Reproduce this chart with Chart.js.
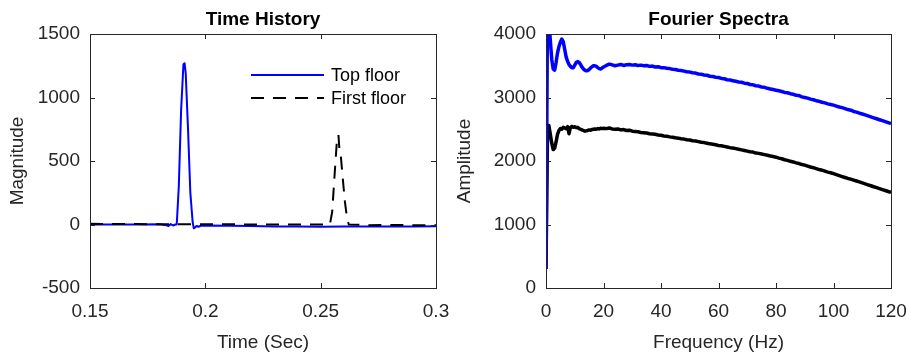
<!DOCTYPE html>
<html>
<head>
<meta charset="utf-8">
<script src="https://cdn.jsdelivr.net/npm/chart.js@4.4.1/dist/chart.umd.min.js"></script>
<style>
  html, body { margin: 0; padding: 0; background: #fff; }
  #wrap { position: relative; width: 906px; height: 356px; }
  canvas { position: absolute; top: 0; }
  #timeChart { left: 0; }
  #specChart { left: 453px; }
</style>
</head>
<body>
<div id="wrap">
  <canvas id="timeChart" width="453" height="356"></canvas>
  <canvas id="specChart" width="453" height="356"></canvas>
</div>
<script>
// Time history + Fourier spectra, two panels side by side (MATLAB look).

// --- time history (left) ---
const topTime = [0.150, 0.160, 0.170, 0.180, 0.183, 0.184, 0.185, 0.186, 0.1870, 0.1876, 0.1885, 0.1895,
  0.1905, 0.1910, 0.1915, 0.1925, 0.1935, 0.1945, 0.1950, 0.1955, 0.1962, 0.1970, 0.1980, 0.200,
  0.210, 0.220, 0.230, 0.240, 0.250, 0.260, 0.270, 0.280, 0.290, 0.300];
const topMag = [0, 0, 0, 2, -5, -12, 3, -8, 0, 0, 300, 900,
  1260, 1270, 1190, 750, 250, 20, -30, -25, -12, -18, -10, -8,
  -10, -12, -15, -16, -18, -16, -15, -16, -15, -14];

const firstTime = [0.150, 0.170, 0.200, 0.230, 0.250, 0.2540, 0.2550, 0.2560, 0.2570, 0.2577, 0.2581,
  0.2585, 0.2595, 0.2605, 0.2615, 0.2622, 0.270, 0.280, 0.290, 0.300];
const firstMag = [5, 3, 2, 0, 0, 0, 100, 380, 650, 705, 600,
  590, 380, 180, 40, 0, -5, -4, -5, -6];

const timeTicks = [0.15, 0.2, 0.25, 0.3];
const magTicks = [-500, 0, 500, 1000, 1500];

// --- Fourier spectra (right) ---
const freq = [0, 0.5, 1, 1.5, 2, 2.5, 3, 3.5, 4, 4.5, 5, 5.5, 6, 6.5, 7, 7.5, 8, 8.5, 9, 9.5,
  10, 10.5, 11, 11.5, 12, 12.5, 13, 13.5, 14, 14.5, 15, 15.5, 16, 16.5, 17, 17.5, 18, 18.5, 19, 19.5, 20,
  21, 22, 23, 24, 25, 26, 27, 28, 29, 30, 31, 32, 33, 34, 35, 36, 37, 38, 39, 40,
  41, 42, 43, 44, 45, 46, 47, 48, 49, 50, 51, 52, 53, 54, 55, 56, 57, 58, 59, 60,
  61, 62, 63, 64, 65, 66, 67, 68, 69, 70, 71, 72, 73, 74, 75, 76, 77, 78, 79, 80,
  81, 82, 83, 84, 85, 86, 87, 88, 89, 90, 91, 92, 93, 94, 95, 96, 97, 98, 99, 100,
  101, 102, 103, 104, 105, 106, 107, 108, 109, 110, 111, 112, 113, 114, 115, 116, 117, 118, 119, 120];

const topAmp = [300, 4300, 4200, 3900, 3600, 3450, 3430, 3550, 3700, 3800, 3870, 3920, 3880, 3760, 3640, 3570, 3520, 3490, 3470, 3470,
  3510, 3550, 3565, 3555, 3520, 3480, 3450, 3430, 3420, 3425, 3440, 3465, 3485, 3500, 3500, 3490, 3470, 3455, 3450, 3465, 3480,
  3505, 3525, 3515, 3500, 3510, 3520, 3505, 3515, 3520, 3510, 3515, 3505, 3510, 3500, 3505, 3490, 3495, 3480, 3485, 3470,
  3470, 3460, 3455, 3445, 3440, 3430, 3425, 3415, 3405, 3400, 3390, 3385, 3370, 3365, 3355, 3350, 3335, 3330, 3320, 3315,
  3300, 3295, 3280, 3275, 3265, 3255, 3245, 3240, 3225, 3220, 3205, 3200, 3185, 3180, 3165, 3160, 3145, 3135, 3125, 3115,
  3105, 3095, 3080, 3075, 3060, 3050, 3035, 3030, 3010, 3000, 2990, 2975, 2965, 2950, 2940, 2925, 2915, 2900, 2890, 2880,
  2865, 2850, 2840, 2825, 2810, 2800, 2780, 2770, 2755, 2740, 2725, 2710, 2695, 2680, 2665, 2650, 2635, 2620, 2605, 2590];

const firstAmp = [300, 2350, 2560, 2420, 2280, 2180, 2200, 2300, 2420, 2480, 2510, 2500, 2530, 2520, 2510, 2540, 2430, 2530, 2545, 2530,
  2540, 2525, 2530, 2510, 2500, 2490, 2480, 2470, 2475, 2480, 2490, 2485, 2495, 2500, 2505, 2500, 2510, 2505, 2515, 2510, 2515,
  2510, 2520, 2505, 2500, 2505, 2490, 2495, 2480, 2485, 2470, 2465, 2460, 2450, 2445, 2440, 2430, 2425, 2420, 2410, 2405,
  2395, 2390, 2380, 2375, 2365, 2360, 2350, 2345, 2335, 2330, 2320, 2315, 2305, 2295, 2290, 2280, 2270, 2265, 2255, 2245,
  2240, 2230, 2220, 2210, 2205, 2195, 2185, 2175, 2165, 2155, 2145, 2140, 2125, 2120, 2110, 2100, 2090, 2080, 2070, 2060,
  2045, 2035, 2020, 2010, 1995, 1985, 1970, 1960, 1945, 1935, 1920, 1905, 1895, 1880, 1865, 1855, 1840, 1825, 1815, 1800,
  1785, 1770, 1755, 1740, 1725, 1715, 1700, 1685, 1670, 1655, 1640, 1625, 1610, 1595, 1580, 1565, 1550, 1535, 1520, 1505];

const freqTicks = [0, 20, 40, 60, 80, 100, 120];
const ampTicks = [0, 1000, 2000, 3000, 4000];

const FONT = "'Liberation Sans', Arial, sans-serif";
const AXIS = "#262626";
const BLUE = "#0000ff";
const TICK = 5;

const pts = (xs, ys) => xs.map((x, i) => ({ x, y: ys[i] }));
const useTicks = (list) => (scale) => { scale.ticks = list.map((v) => ({ value: v })); };

// box + inward ticks + title + optional legend, drawn on top like MATLAB
const matlabAxes = {
  id: "matlabAxes",
  afterDraw(chart, args, opts) {
    const { ctx, chartArea: a, scales } = chart;
    ctx.save();
    ctx.strokeStyle = AXIS;
    ctx.lineWidth = 1;
    ctx.setLineDash([]);
    ctx.beginPath();
    scales.x.ticks.forEach((t) => {
      const px = Math.round(scales.x.getPixelForValue(t.value)) + 0.5;
      ctx.moveTo(px, a.bottom); ctx.lineTo(px, a.bottom - TICK);
      ctx.moveTo(px, a.top); ctx.lineTo(px, a.top + TICK);
    });
    scales.y.ticks.forEach((t) => {
      const py = Math.round(scales.y.getPixelForValue(t.value)) + 0.5;
      ctx.moveTo(a.left, py); ctx.lineTo(a.left + TICK, py);
      ctx.moveTo(a.right, py); ctx.lineTo(a.right - TICK, py);
    });
    ctx.stroke();
    ctx.strokeRect(Math.round(a.left) + 0.5, Math.round(a.top) + 0.5,
      Math.round(a.right - a.left), Math.round(a.bottom - a.top));

    ctx.fillStyle = "#000";
    ctx.font = `bold 19px ${FONT}`;
    ctx.textAlign = "center";
    ctx.textBaseline = "middle";
    ctx.fillText(opts.title, (a.left + a.right) / 2, 20);

    if (opts.legend) {
      const L = opts.legend;
      ctx.font = `18px ${FONT}`;
      ctx.textAlign = "left";
      chart.data.datasets.forEach((ds, i) => {
        const y = L.y + i * L.gap;
        ctx.strokeStyle = ds.borderColor;
        ctx.lineWidth = ds.borderWidth;
        ctx.setLineDash(ds.borderDash || []);
        ctx.beginPath();
        ctx.moveTo(L.x1, y); ctx.lineTo(L.x2, y);
        ctx.stroke();
        ctx.fillStyle = "#000";
        ctx.fillText(ds.label, L.x2 + 7, y + 1);
      });
    }
    ctx.restore();
  },
};

function axisOpts(ticks, min, max, title, size, horizontal, titlePad) {
  return {
    type: "linear",
    min, max,
    afterBuildTicks: useTicks(ticks),
    afterFit: (s) => {
      if (horizontal) s.height = size; else s.width = size;
      s.paddingLeft = 0; s.paddingRight = 0; s.paddingTop = 0; s.paddingBottom = 0;
    },
    grid: { display: false, drawTicks: false },
    border: { display: false },
    ticks: {
      color: AXIS, padding: horizontal ? 12 : 10,
      font: { family: FONT, size: 19 },
      maxRotation: 0, autoSkip: false,
      callback: (v) => String(v),
    },
    title: {
      display: true, text: title, color: AXIS,
      font: { family: FONT, size: 19 }, padding: titlePad,
    },
  };
}

function makeChart(id, datasets, xAx, yAx, pad, pluginOpts) {
  return new Chart(document.getElementById(id), {
    type: "line",
    data: { datasets },
    options: {
      responsive: false,
      animation: false,
      events: [],
      layout: { padding: pad },
      elements: { point: { radius: 0 }, line: { tension: 0, borderJoinStyle: "round", borderCapStyle: "butt" } },
      plugins: { legend: { display: false }, tooltip: { enabled: false }, title: { display: false }, matlabAxes: pluginOpts },
      scales: { x: xAx, y: yAx },
    },
    plugins: [matlabAxes],
  });
}

makeChart("timeChart",
  [
    { label: "Top floor", data: pts(topTime, topMag), borderColor: BLUE, borderWidth: 2, order: 1 },
    { label: "First floor", data: pts(firstTime, firstMag), borderColor: "#000", borderWidth: 2, borderDash: [13, 9], order: 0 },
  ],
  axisOpts(timeTicks, 0.15, 0.3, "Time (Sec)", 68, true, { top: 0, bottom: 2 }),
  axisOpts(magTicks, -500, 1500, "Magnitude", 90, false, { top: 6, bottom: 0 }),
  { top: 34, right: 17, left: 0, bottom: 0 },
  { title: "Time History", legend: { x1: 251, x2: 324, y: 75, gap: 23 } });

makeChart("specChart",
  [
    { label: "Top floor", data: pts(freq, topAmp), borderColor: BLUE, borderWidth: 3.5 },
    { label: "First floor", data: pts(freq, firstAmp), borderColor: "#000", borderWidth: 3.5 },
  ],
  axisOpts(freqTicks, 0, 120, "Frequency (Hz)", 68, true, { top: 0, bottom: 2 }),
  axisOpts(ampTicks, 0, 4000, "Amplitude", 93, false, { top: 0, bottom: 0 }),
  { top: 34, right: 15, left: 0, bottom: 0 },
  { title: "Fourier Spectra" });
</script>
</body>
</html>
